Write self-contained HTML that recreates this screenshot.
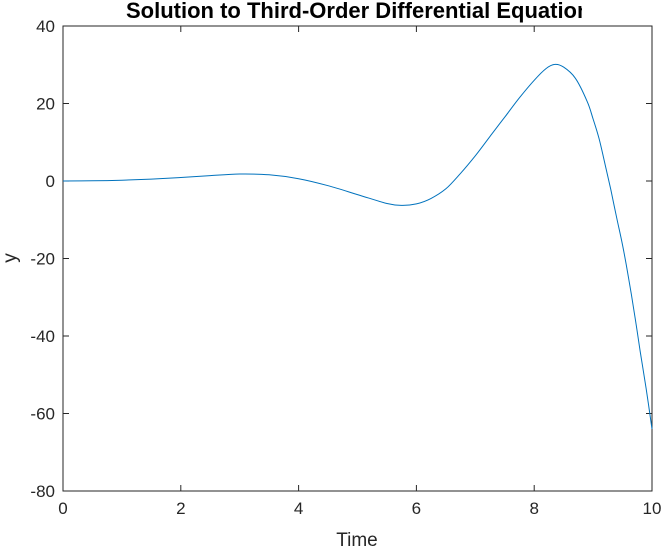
<!DOCTYPE html>
<html><head><meta charset="utf-8"><style>
body{margin:0;background:#fff;}
svg{display:block;font-family:"Liberation Sans",sans-serif;}
</style></head><body>
<svg id="chart" width="666" height="548">
<defs><clipPath id="tclip"><rect x="0" y="0" width="582" height="40"/></clipPath></defs>
</svg>
<script>
const tValues=[0,0.5,1,1.5,2,2.5,3,3.5,4,4.5,5,5.5,5.75,6,6.25,6.5,6.75,7,7.25,7.5,7.75,8,8.2,8.35,8.5,8.7,8.9,9.0,9.1,9.2,9.3,9.4,9.5,9.6,9.7,9.8,9.9,10];
const yValues=[0,0.05,0.2,0.5,0.9,1.4,1.8,1.6,0.6,-1.2,-3.5,-5.8,-6.3,-5.9,-4.5,-2,2,6.5,11.5,16.5,21.5,26,29,30.1,29.4,26.5,20.5,16,11,4.5,-2.2,-9.5,-16.5,-24.8,-34,-44,-53.5,-64];
const xTicks=[0,2,4,6,8,10];
const yTicks=[40,20,0,-20,-40,-60,-80];
const NS="http://www.w3.org/2000/svg";
const svg=document.getElementById('chart');
const L=63,R=652,T=26,B=491;
const xs=v=>L+(v-0)/10*(R-L);
const ys=v=>T+(40-v)/120*(B-T);
function mk(tag,attrs,parent){const e=document.createElementNS(NS,tag);for(const k in attrs)e.setAttribute(k,attrs[k]);(parent||svg).appendChild(e);return e;}
const box=mk('rect',{x:L,y:T,width:R-L,height:B-T,fill:'none',stroke:'#262626','stroke-width':1});


xTicks.forEach(v=>{
  const x=xs(v);
  const t1=mk('line',{x1:x,x2:x,y1:B,y2:B-6,stroke:'#262626'});
  
  
  const t2=mk('line',{x1:x,x2:x,y1:T,y2:T+6,stroke:'#262626'});
  
  
  const lb=mk('text',{x:x,y:B+23,'text-anchor':'middle','font-size':17,fill:'#262626'});
  lb.textContent=v;
  
  
});
yTicks.forEach(v=>{
  const y=ys(v);
  const t1=mk('line',{x1:L,x2:L+6,y1:y,y2:y,stroke:'#262626'});
  
  
  const t2=mk('line',{x1:R,x2:R-6,y1:y,y2:y,stroke:'#262626'});
  
  
  const lb=mk('text',{x:L-8,y:y+6,'text-anchor':'end','font-size':17,fill:'#262626'});
  lb.textContent=v;
  
  
});
const P=tValues.map((t,i)=>[xs(t),ys(yValues[i])]);
let d='M'+P[0][0].toFixed(1)+','+P[0][1].toFixed(1);
for(let i=0;i<P.length-1;i++){
  const p0=P[Math.max(0,i-1)],p1=P[i],p2=P[i+1],p3=P[Math.min(P.length-1,i+2)];
  const c1=[p1[0]+(p2[0]-p0[0])/6,p1[1]+(p2[1]-p0[1])/6];
  const c2=[p2[0]-(p3[0]-p1[0])/6,p2[1]-(p3[1]-p1[1])/6];
  d+=' C'+c1.map(n=>n.toFixed(1)).join(',')+' '+c2.map(n=>n.toFixed(1)).join(',')+' '+p2.map(n=>n.toFixed(1)).join(',');
}
const line=mk('path',{d:d,fill:'none',stroke:'#0072bd','stroke-width':1});


const xl=mk('text',{x:357,y:546,'text-anchor':'middle','font-size':19,fill:'#262626'});
xl.textContent='Time';


const yl=mk('text',{x:0,y:0,'text-anchor':'middle','font-size':19,fill:'#262626',transform:'translate(16,258) rotate(-90)'});
yl.textContent='y';


const tt=mk('text',{x:126,y:18,'text-anchor':'start','font-size':22,'font-weight':'bold',fill:'#000','clip-path':'url(#tclip)'});
tt.textContent='Solution to Third-Order Differential Equation';


</script>
</body></html>
